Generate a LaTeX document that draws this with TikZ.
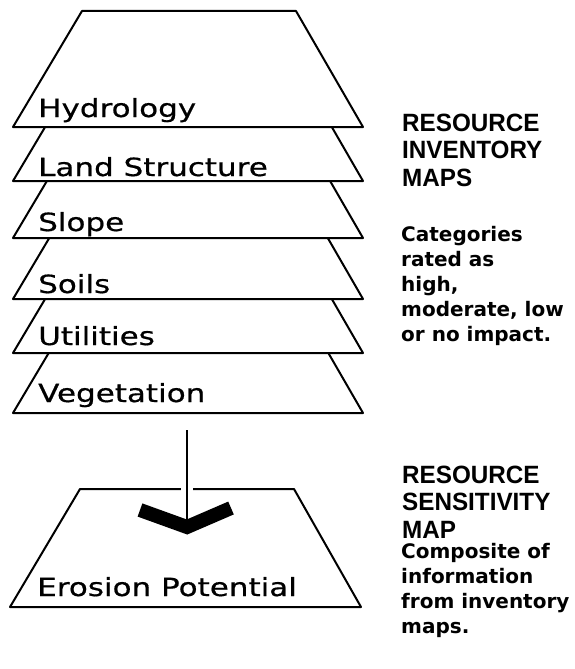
\documentclass[tikz,border=0pt]{standalone}
\usepackage{fontspec}
\newfontfamily\letterfont[FakeStretch=1.24,FakeBold=0.6]{DejaVu Sans}
\newfontfamily\notefont{DejaVu Sans}
\newfontfamily\headfont[FakeStretch=0.97]{Liberation Sans}
\begin{document}
\begin{tikzpicture}[x=1pt,y=-1pt,
  sheet/.style={draw=black, fill=white, line width=2pt, line join=round},
  sheetlabel/.style={anchor=base west, inner sep=0pt,
    font=\letterfont\fontsize{25}{25}\selectfont},
  heading/.style={anchor=base west, inner sep=0pt, align=left,
    font=\headfont\bfseries\fontsize{25}{27.5}\selectfont},
  note/.style={anchor=base west, inner sep=0pt, align=left,
    font=\notefont\bfseries\fontsize{20}{25}\selectfont},
  shaft/.style={draw=black, line width=2pt},
  chevron/.style={draw=black, line width=14pt, line cap=butt, miter limit=10}]
\useasboundingbox (0,0) rectangle (574,669);

% stacked inventory sheets, drawn from the bottom one upwards
\foreach \yb in {413,353,299,238,181,127}{
  \path[sheet] (13,\yb) -- (363,\yb) -- (296,\yb-116) -- (82,\yb-116) -- cycle;
}
\node[sheetlabel] (hydro) at (38,117) {Hydrology};
\node[sheetlabel] (land)  at (38,176) {Land Structure};
\node[sheetlabel] (slope) at (38,231) {Slope};
\node[sheetlabel] (soils) at (38,293) {Soils};
\node[sheetlabel] (util)  at (38,345) {Utilities};
\node[sheetlabel] (veg)   at (38,402) {Vegetation};

% composite sensitivity sheet
\path[sheet] (10,607) -- (361,607) -- (294,489) -- (80,489) -- cycle;
\node[sheetlabel] (erosion) at (37,596) {Erosion Potential};

% arrow from the inventory stack to the composite sheet
\coordinate (shaftTop) at (187,430);
\coordinate (chevL) at (140,510);
\coordinate (chevTip) at (187,527);
\coordinate (chevR) at (231,508);
\draw[draw=white, line width=12pt] (187,482) -- (187,496);
\draw[shaft] (shaftTop) -- (chevTip);
\draw[chevron] (chevL) -- (chevTip) -- (chevR);

% side captions (a multi-line node sits on the baseline of its last line)
\node[heading] (invhead) at (402,186) {RESOURCE\\INVENTORY\\MAPS};
\node[note] (invnote) at (401,341) {Categories\\rated as\\high,\\moderate, low\\or no impact.};
\node[heading] (senhead) at (402,538) {RESOURCE\\SENSITIVITY\\MAP};
\node[note] (sennote) at (401,633) {Composite of\\information\\from inventory\\maps.};
\end{tikzpicture}
\end{document}
